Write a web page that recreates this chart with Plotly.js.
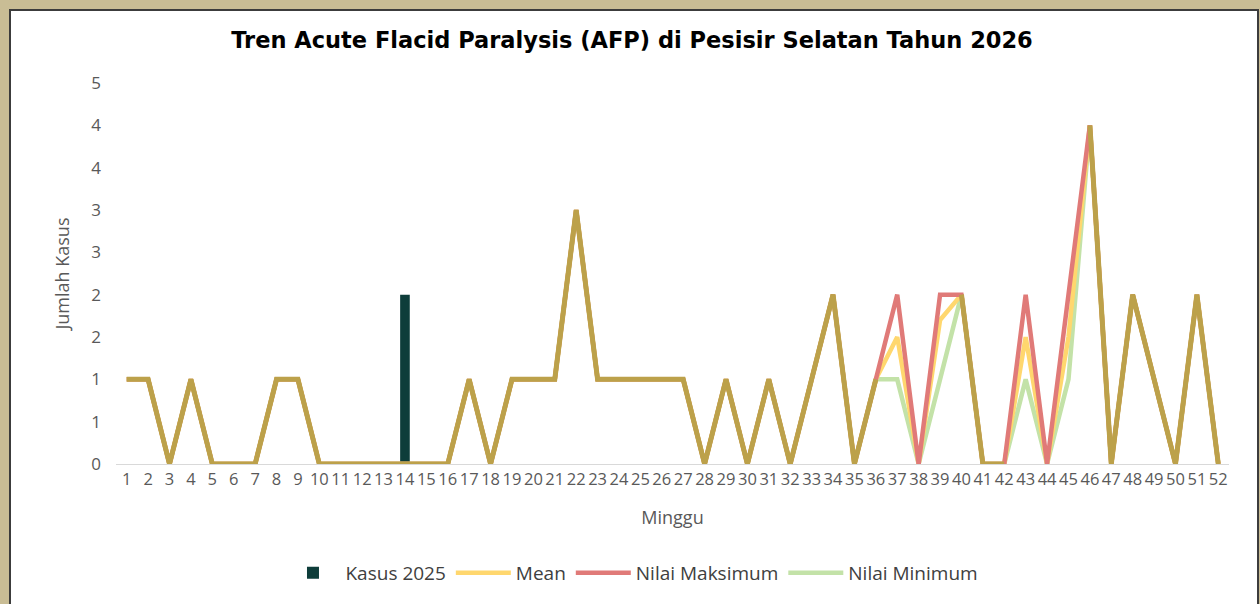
<!DOCTYPE html>
<html>
<head>
<meta charset="utf-8">
<script src="https://cdn.plot.ly/plotly-3.0.1.min.js"></script>
<style>
  html, body { margin: 0; padding: 0; background: #C9BD95; overflow: hidden; }
  #frame { position: absolute; left: 9px; top: 9px; width: 1246px; height: 600px;
           border: 2px solid #3c3c3c; background: #ffffff; }
  #chart { width: 1246px; height: 593px; }
</style>
</head>
<body>
<div id="frame"><div id="chart"></div></div>
<script>
// Weeks (Minggu)
const weeks = Array.from({length: 52}, (_, i) => i + 1);
const weekLabels = weeks.map(String);

// Kasus 2025 (bar)
const kasus2025 = [0,0,0,0,0,0,0,0,0,0, 0,0,0,2,0,0,0,0,0,0,
                   0,0,0,0,0,0,0,0,0,0, 0,0,0,0,0,0,0,0,0,0,
                   0,0,0,0,0,0,0,0,0,0, 0,0];

// Mean
const meanVals = [1,1,0,1,0,0,0,1,1,0, 0,0,0,0,0,0,1,0,1,1,
                  1,3,1,1,1,1,1,0,1,0, 1,0,1,2,0,1,1.5,0,1.7,2,
                  0,0,1.5,0,1.5,4,0,2,1,0, 2,0];

// Nilai Maksimum
const maxVals  = [1,1,0,1,0,0,0,1,1,0, 0,0,0,0,0,0,1,0,1,1,
                  1,3,1,1,1,1,1,0,1,0, 1,0,1,2,0,1,2,0,2,2,
                  0,0,2,0,2,4,0,2,1,0, 2,0];

// Nilai Minimum
const minVals  = [1,1,0,1,0,0,0,1,1,0, 0,0,0,0,0,0,1,0,1,1,
                  1,3,1,1,1,1,1,0,1,0, 1,0,1,2,0,1,1,0,1,2,
                  0,0,1,0,1,4,0,2,1,0, 2,0];

// Y tick labels (as displayed, rounded)
const yTickVals = [0,0.5,1,1.5,2,2.5,3,3.5,4,4.5];
const yTickText = ["0","1","1","2","2","3","3","4","4","5"];

// Where mean, max and min coincide the overlapping lines read as one olive line
const overlapVals = weeks.map((_, i) => (maxVals[i] === minVals[i] && meanVals[i] === maxVals[i]) ? meanVals[i] : null);

const gray = '#595959';
const font = 'Open Sans, Noto Sans, sans-serif';

const traces = [
  { type: 'bar', x: weeks, y: kasus2025, name: 'Kasus 2025', width: 0.45,
    marker: { color: '#0E3D3A' }, legendrank: 1, hoverinfo: 'x+y' },
  { type: 'scatter', mode: 'lines', x: weeks, y: minVals, name: 'Nilai Minimum',
    line: { color: '#C3E2A8', width: 4.5 }, legendrank: 4 },
  { type: 'scatter', mode: 'lines', x: weeks, y: meanVals, name: 'Mean',
    line: { color: '#FFD76E', width: 4.5 }, legendrank: 2 },
  { type: 'scatter', mode: 'lines', x: weeks, y: maxVals, name: 'Nilai Maksimum',
    line: { color: '#E07A78', width: 4.5 }, legendrank: 3 },
  { type: 'scatter', mode: 'lines', x: weeks, y: overlapVals, name: 'overlap',
    line: { color: '#BCA14A', width: 5 }, connectgaps: false, showlegend: false }
];

const layout = {
  width: 1246, height: 593,
  margin: { l: 105, r: 28, t: 72, b: 140 },
  paper_bgcolor: '#ffffff', plot_bgcolor: '#ffffff',
  font: { family: font, color: gray },
  title: { text: '<b>Tren Acute Flacid Paralysis (AFP) di Pesisir Selatan Tahun 2026</b>',
           x: (632 - 11) / 1246, xanchor: 'center', xref: 'container',
           y: 1 - 29/593, yanchor: 'middle', yref: 'container',
           font: { family: 'DejaVu Sans, Open Sans, sans-serif', size: 22.5, color: '#000000' } },
  xaxis: {
    range: [0.5, 52.5], tickmode: 'array', tickvals: weeks, ticktext: weekLabels,
    tickangle: 0, tickfont: { size: 16.5, color: gray }, showgrid: false, zeroline: false,
    showline: true, linecolor: '#D9D9D9', linewidth: 1, ticks: '',
    title: { text: 'Minggu', font: { size: 18, color: gray }, standoff: 22 }
  },
  yaxis: {
    range: [0, 4.5], tickmode: 'array', tickvals: yTickVals, ticktext: yTickText,
    tickfont: { size: 17, color: gray }, showgrid: false, zeroline: false, showline: false,
    ticks: '', ticklabelstandoff: 14,
    title: { text: 'Jumlah Kasus', font: { size: 18, color: gray }, standoff: 16 }
  },
  legend: { orientation: 'h', x: 0.4636, xanchor: 'center', y: (453 - 562) / 381, yanchor: 'middle',
            font: { size: 19, color: '#404040' }, traceorder: 'normal', itemwidth: 55 },
  bargap: 0.5,
  showlegend: true
};

Plotly.newPlot('chart', traces, layout, { displayModeBar: false, staticPlot: true });
</script>
</body>
</html>
